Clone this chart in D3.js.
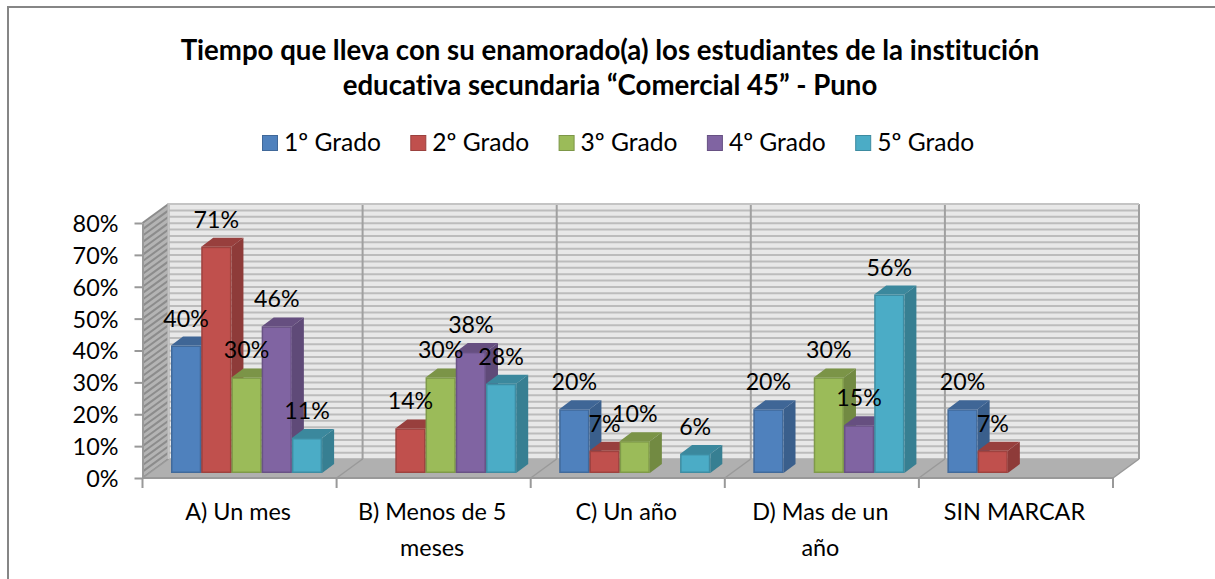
<!DOCTYPE html>
<html><head><meta charset="utf-8">
<script src="https://cdnjs.cloudflare.com/ajax/libs/d3/7.8.5/d3.min.js"></script>
<style>html,body{margin:0;padding:0;background:#fff;overflow:hidden}svg{display:block}text{font-family:Lato,"Open Sans",sans-serif;fill:#000;font-variant-ligatures:none}</style>
</head><body><svg id="c" width="1215" height="579"></svg>
<script>
const titleLines = ["Tiempo que lleva con su enamorado(a) los estudiantes de la institución", "educativa secundaria “Comercial 45” - Puno"];
const categories = [["A) Un mes"], ["B) Menos de 5", "meses"], ["C) Un año"], ["D) Mas de un", "año"], ["SIN MARCAR"]];
const seriesNames = ["1º Grado", "2º Grado", "3º Grado", "4º Grado", "5º Grado"];
const grado1 = [40, 0, 20, 20, 20];
const grado2 = [71, 14, 7, 0, 7];
const grado3 = [30, 30, 10, 30, 0];
const grado4 = [46, 38, 0, 15, 0];
const grado5 = [11, 28, 6, 56, 0];
const seriesValues = [grado1, grado2, grado3, grado4, grado5];
const colors = ["#4F81BD", "#C0504D", "#9BBB59", "#8064A2", "#4BACC6"];
const yTicks = [0, 10, 20, 30, 40, 50, 60, 70, 80];
const minorTicks = d3.range(0, 81, 2);

const svg = d3.select("#c");
const L = 142.5, R = 1113, Y0 = 478, Y80 = 223, DX = 26, DY = -19, BX = 12, BY = 9, BARBASE = 5;
const x = d3.scaleBand().domain(d3.range(categories.length)).range([L, R]).paddingInner(0).paddingOuter(0);
const y = d3.scaleLinear().domain([0, 80]).range([Y0, Y80]);
const xBar = d3.scaleBand().domain(d3.range(seriesNames.length)).range([28.5, x.bandwidth() - 14.5]);

// chart frame
svg.append("path").attr("d", "M8,579V7H1215").attr("fill", "none").attr("stroke", "#868686").attr("stroke-width", 2);

// title
svg.selectAll("text.title").data(titleLines).join("text").attr("class", "title")
  .attr("x", 610).attr("y", (d, i) => 60 + i * 35).attr("text-anchor", "middle")
  .attr("font-size", 27.6).attr("font-weight", 700).text(d => d);

// legend
const lg = svg.selectAll("g.lg").data(seriesNames).join("g").attr("class", "lg")
  .attr("transform", (d, i) => `translate(${262 + i * 148.3},0)`);
lg.append("rect").attr("x", 0.5).attr("y", 135.5).attr("width", 15).attr("height", 15)
  .attr("fill", (d, i) => colors[i]).attr("stroke", (d, i) => d3.color(colors[i]).darker(0.6));
lg.append("text").attr("x", 22).attr("y", 151).attr("font-size", 24.6).text(d => d);

// walls
const back = svg.append("g");
back.append("rect").attr("x", L + DX).attr("y", Y80 + DY).attr("width", R - L).attr("height", Y0 - Y80).attr("fill", "#e8e8e8");
back.append("path").attr("d", `M${L},${Y0}L${L},${Y80}L${L + DX},${Y80 + DY}L${L + DX},${Y0 + DY}Z`).attr("fill", "#b4b4b4");
back.selectAll("line.h").data(minorTicks).join("line").attr("class", "h")
  .attr("x1", L + DX).attr("x2", R + DX).attr("y1", d => y(d) + DY).attr("y2", d => y(d) + DY)
  .attr("stroke", "#bcbcbc").attr("stroke-width", 2);
back.selectAll("line.s").data(minorTicks).join("line").attr("class", "s")
  .attr("x1", L).attr("x2", L + DX).attr("y1", d => y(d)).attr("y2", d => y(d) + DY)
  .attr("stroke", "#8c8c8c").attr("stroke-width", 2);
back.append("path").attr("d", `M${L},${Y0}L${R},${Y0}L${R + DX},${Y0 + DY}L${L + DX},${Y0 + DY}Z`).attr("fill", "#b0b0b0");
const bounds = d3.range(categories.length + 1).map(i => i === categories.length ? R : x(i));
back.selectAll("line.v").data(bounds).join("line").attr("class", "v")
  .attr("x1", d => d + DX).attr("x2", d => d + DX).attr("y1", Y80 + DY).attr("y2", Y0 + DY)
  .attr("stroke", "#a0a0a0").attr("stroke-width", 2);
back.selectAll("line.d").data(bounds).join("line").attr("class", "d")
  .attr("x1", d => d).attr("x2", d => d + DX).attr("y1", Y0).attr("y2", Y0 + DY)
  .attr("stroke", "#999").attr("stroke-width", 1.5);
back.append("path").attr("d", `M${L + DX},${Y0 + DY}V${Y80 + DY}H${R + DX}`).attr("fill", "none").attr("stroke", "#c4c4c4").attr("stroke-width", 2);

// axes
const axisG = svg.append("g").attr("transform", `translate(${L},0)`)
  .call(d3.axisLeft(y).tickValues(yTicks).tickFormat(d => d + "%").tickSizeInner(8).tickSizeOuter(0).tickPadding(16));
axisG.selectAll("text").attr("font-size", 23.4).attr("dy", "0.36em").style("font-family", "Lato");
axisG.selectAll("path,line").attr("stroke", "#999").attr("stroke-width", 2);

const xAxisG = svg.append("g").attr("transform", `translate(0,${Y0})`);
xAxisG.append("line").attr("x1", L).attr("x2", R).attr("stroke", "#999").attr("stroke-width", 2);
xAxisG.selectAll("line.t").data(bounds).join("line").attr("class", "t").attr("x1", d => d).attr("x2", d => d).attr("y1", 0).attr("y2", 10).attr("stroke", "#999").attr("stroke-width", 2);
const xl = xAxisG.selectAll("g.xl").data(categories).join("g").attr("class", "xl")
  .attr("transform", (d, i) => `translate(${x(i) + x.bandwidth() / 2 - 1.5},0)`);
xl.selectAll("text").data(d => d).join("text").attr("text-anchor", "middle").attr("font-size", 23.4)
  .attr("y", (d, i) => 42 + i * 36).text(d => d);

// bars (left to right so that later bars cover earlier depth faces)
const flat = [];
categories.forEach((c, ci) => seriesNames.forEach((s, si) => {
  const v = seriesValues[si][ci];
  if (v > 0) flat.push({ci, si, v});
}));
const barBase = Y0 - BARBASE;
const hScale = d => y(0) - y(d);
const bars = svg.selectAll("g.bar").data(flat).join("g").attr("class", "bar");
bars.each(function(d) {
  const g = d3.select(this), bw = xBar.bandwidth();
  const x0 = x(d.ci) + xBar(d.si), x1 = x0 + bw, top = barBase - hScale(d.v);
  const c = d3.color(colors[d.si]);
  const edge = c.darker(0.55);
  g.append("path").attr("d", `M${x1},${barBase}V${top}L${x1 + BX},${top - BY}V${barBase - BY}Z`).attr("fill", c.darker(0.85));
  g.append("path").attr("d", `M${x0},${top}H${x1}L${x1 + BX},${top - BY}H${x0 + BX}Z`).attr("fill", c.darker(0.65));
  g.append("rect").attr("x", x0 + 0.75).attr("y", top + 0.75).attr("width", bw - 1.5).attr("height", barBase - top - 1.5)
    .attr("fill", colors[d.si]).attr("stroke", edge).attr("stroke-width", 1.5);
});
// data labels
svg.selectAll("text.dl").data(flat).join("text").attr("class", "dl")
  .attr("text-anchor", "middle").attr("font-size", 23.2)
  .attr("x", d => x(d.ci) + xBar(d.si) + xBar.bandwidth() / 2)
  .attr("y", d => barBase - hScale(d.v) - 19)
  .text(d => d.v + "%");
</script></body></html>
